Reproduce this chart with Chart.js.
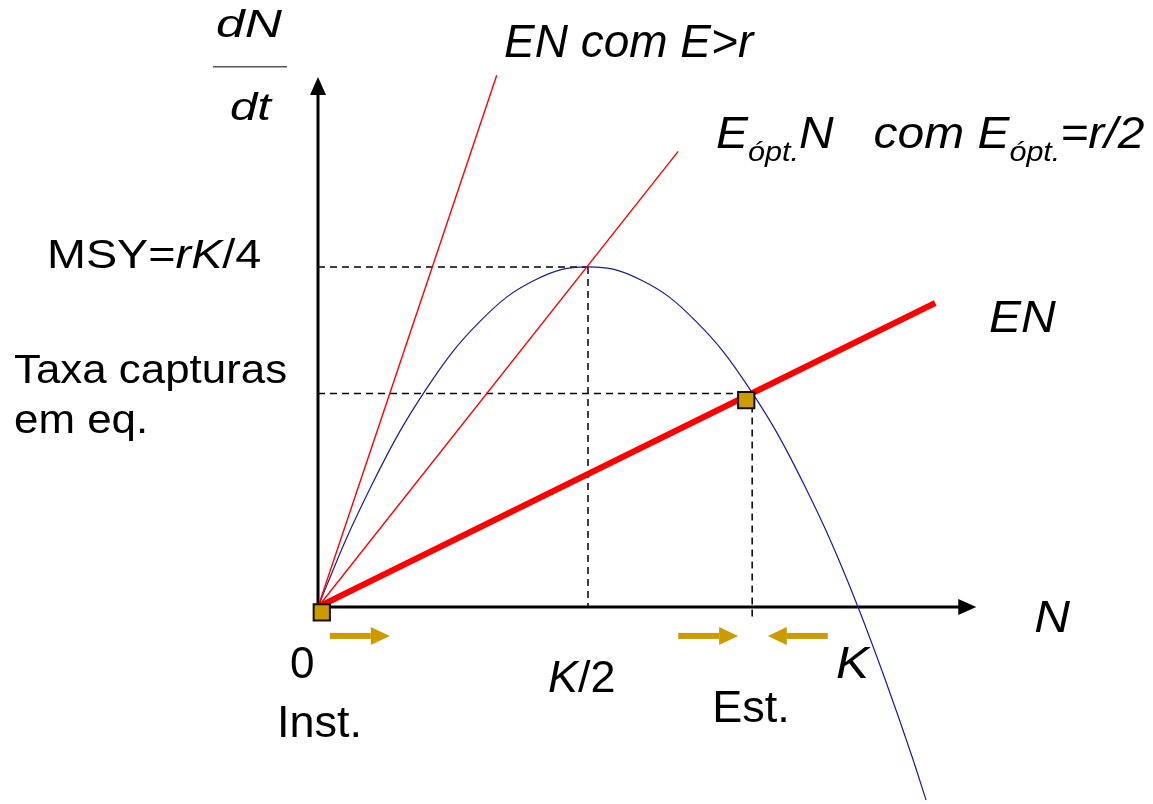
<!DOCTYPE html>
<html>
<head>
<meta charset="utf-8">
<script src="https://cdn.jsdelivr.net/npm/chart.js@4/dist/chart.umd.min.js"></script>
<style>
  html, body { margin: 0; padding: 0; background: #fff; }
  #wrap { width: 1153px; height: 804px; }
</style>
</head>
<body>
<div id="wrap"><canvas id="chart" width="1153" height="804"></canvas></div>
<script>
'use strict';

// population N (K = 100) and growth dN/dt
const curveN = [0, 5, 10, 15, 20, 25, 30, 35, 40, 45, 50, 55, 60, 65, 70, 75, 80, 85, 90, 95, 100, 105, 110, 112.6];
const curveGrowth = [0, 4.8, 9, 12.8, 16, 18.8, 21, 22.8, 24, 24.8, 25, 24.8, 24, 22.8, 21, 18.8, 16, 12.8, 9, 4.8, 0, -5.3, -11, -14.2];

// harvest lines EN: end points from origin
const highEffortEnd = [33.1, 39.1];
const optEffortEnd = [66.7, 33.5];
const effortEnd = [114.3, 22.35];

// reference values
const msy = 25;
const halfK = 50;
const eqN = 80.4;
const eqCatch = 15.7;

// axes (arrow tips)
const xAxisEnd = 121.9;
const yAxisEnd = 38.97;

// equilibrium markers (instable at 0, stable at eqN)
const markersN = [0.7, 79.3];
const markersY = [-0.4, 15.2];

// stability arrows along N
const arrowY = -2.13;
const arrowsFrom = [2.2, 66.7, 94.4];
const arrowsTo = [13.3, 77.8, 83.3];

// tick labels on N axis
const tickValues = [0, halfK, 100];

const RED = '#ff0000';
const GOLD = '#cc9b00';
const FONT = '"Liberation Sans", Arial, sans-serif';

const pts = (xs, ys) => xs.map((x, i) => ({ x, y: ys[i] }));
const seg = (a, b) => [{ x: a[0], y: a[1] }, { x: b[0], y: b[1] }];

// draws a run of text pieces, sx stretches horizontally
function drawRuns(ctx, runs, x, y, sx = 1) {
  ctx.save();
  ctx.translate(x, y);
  ctx.scale(sx, 1);
  let cx = 0;
  runs.forEach((r) => {
    ctx.font = `${r.italic ? 'italic ' : ''}${r.size}px ${FONT}`;
    ctx.fillText(r.t, cx, r.dy || 0);
    cx += ctx.measureText(r.t).width;
  });
  ctx.restore();
}

const overlay = {
  id: 'overlay',
  afterDatasetsDraw(chart) {
    const { ctx, scales: { x, y } } = chart;
    const px = (v) => x.getPixelForValue(v);
    const py = (v) => y.getPixelForValue(v);
    ctx.save();

    // axis arrowheads
    ctx.fillStyle = '#000';
    const ox = px(xAxisEnd), oy = py(0);
    ctx.beginPath();
    ctx.moveTo(ox, oy); ctx.lineTo(ox - 18, oy - 8); ctx.lineTo(ox - 18, oy + 8); ctx.closePath(); ctx.fill();
    const tx = px(0), ty = py(yAxisEnd);
    ctx.beginPath();
    ctx.moveTo(tx, ty); ctx.lineTo(tx - 8, ty + 18); ctx.lineTo(tx + 8, ty + 18); ctx.closePath(); ctx.fill();

    // gold stability arrows
    ctx.fillStyle = GOLD;
    arrowsFrom.forEach((f, i) => {
      const x0 = px(f), x1 = px(arrowsTo[i]), yy = py(arrowY);
      const dir = Math.sign(x1 - x0);
      const head = 19;
      ctx.fillRect(Math.min(x0, x1 - dir * head), yy - 3, Math.abs(x1 - x0) - head, 6);
      ctx.beginPath();
      ctx.moveTo(x1, yy); ctx.lineTo(x1 - dir * head, yy - 9); ctx.lineTo(x1 - dir * head, yy + 9); ctx.closePath(); ctx.fill();
    });

    // texts
    ctx.fillStyle = '#000';
    ctx.textBaseline = 'alphabetic';
    drawRuns(ctx, [{ t: 'dN', italic: true, size: 39 }], 216, 37, 1.32);
    ctx.fillStyle = '#555';
    ctx.fillRect(213, 66, 74, 1.5);
    ctx.fillStyle = '#000';
    drawRuns(ctx, [{ t: 'dt', italic: true, size: 39 }], 230, 120, 1.26);

    drawRuns(ctx, [{ t: 'EN com E>r', italic: true, size: 46 }], 504, 57);
    drawRuns(ctx, [
      { t: 'E', italic: true, size: 44 },
      { t: 'ópt.', italic: true, size: 28, dy: 13 },
      { t: 'N   com E', italic: true, size: 44 },
      { t: 'ópt.', italic: true, size: 28, dy: 13 },
      { t: '=r/2', italic: true, size: 44 }
    ], 716, 148, 1.09);

    drawRuns(ctx, [
      { t: 'MSY=', size: 41 },
      { t: 'rK', italic: true, size: 41 },
      { t: '/4', size: 41 }
    ], 47, 268, 1.14);
    drawRuns(ctx, [{ t: 'Taxa capturas', size: 41 }], 14, 383, 1.07);
    drawRuns(ctx, [{ t: 'em eq.', size: 41 }], 14, 433, 1.07);

    drawRuns(ctx, [{ t: 'EN', italic: true, size: 45 }], 989, 332, 1.07);
    drawRuns(ctx, [{ t: 'N', italic: true, size: 45 }], px(xAxisEnd) + 58, 632, 1.1);

    drawRuns(ctx, [{ t: '0', size: 44 }], px(tickValues[0]) - 28, 678);
    drawRuns(ctx, [{ t: 'Inst.', size: 45 }], px(tickValues[0]) - 41, 737);
    drawRuns(ctx, [{ t: 'K', italic: true, size: 45 }, { t: '/2', size: 45 }], px(tickValues[1]) - 40, 692);
    drawRuns(ctx, [{ t: 'K', italic: true, size: 45 }], px(tickValues[2]) - 22, 678, 1.1);
    drawRuns(ctx, [{ t: 'Est.', size: 45 }], px(eqN) - 40, 722);

    ctx.restore();
  }
};

const dashed = { borderColor: '#000', borderWidth: 1.5, borderDash: [7, 5], pointRadius: 0, showLine: true, fill: false };

new Chart(document.getElementById('chart'), {
  type: 'scatter',
  data: {
    datasets: [
      {
        label: 'equilibria',
        data: pts(markersN, markersY),
        pointStyle: 'rect',
        pointRadius: 11.5,
        backgroundColor: GOLD,
        borderColor: '#111',
        borderWidth: 2,
        showLine: false
      },
      { label: 'EN', data: seg([0, 0], effortEnd), borderColor: RED, borderWidth: 6, pointRadius: 0, showLine: true },
      { label: 'Eopt N', data: seg([0, 0], optEffortEnd), borderColor: RED, borderWidth: 1.4, pointRadius: 0, showLine: true },
      { label: 'EN E>r', data: seg([0, 0], highEffortEnd), borderColor: RED, borderWidth: 1.4, pointRadius: 0, showLine: true },
      {
        label: 'dN/dt',
        data: pts(curveN, curveGrowth),
        borderColor: '#1a1a99',
        borderWidth: 1.2,
        pointRadius: 0,
        showLine: true,
        cubicInterpolationMode: 'monotone'
      },
      { label: 'N axis', data: seg([0, 0], [xAxisEnd - 2, 0]), borderColor: '#000', borderWidth: 3, pointRadius: 0, showLine: true },
      { label: 'dN axis', data: seg([0, 0], [0, yAxisEnd - 1]), borderColor: '#000', borderWidth: 3, pointRadius: 0, showLine: true },
      { label: 'msy h', data: seg([0, msy], [halfK, msy]), ...dashed },
      { label: 'msy v', data: seg([halfK, msy], [halfK, 0]), ...dashed },
      { label: 'eq h', data: seg([0, eqCatch], [eqN, eqCatch]), ...dashed },
      { label: 'eq v', data: seg([eqN, eqCatch], [eqN, -0.96]), ...dashed }
    ]
  },
  options: {
    responsive: false,
    animation: false,
    layout: { padding: 0, autoPadding: false },
    plugins: { legend: { display: false }, tooltip: { enabled: false } },
    scales: {
      x: { type: 'linear', display: false, min: -58.89, max: 154.63 },
      y: { type: 'linear', display: false, min: -14.49, max: 44.63 }
    }
  },
  plugins: [overlay]
});
</script>
</body>
</html>
